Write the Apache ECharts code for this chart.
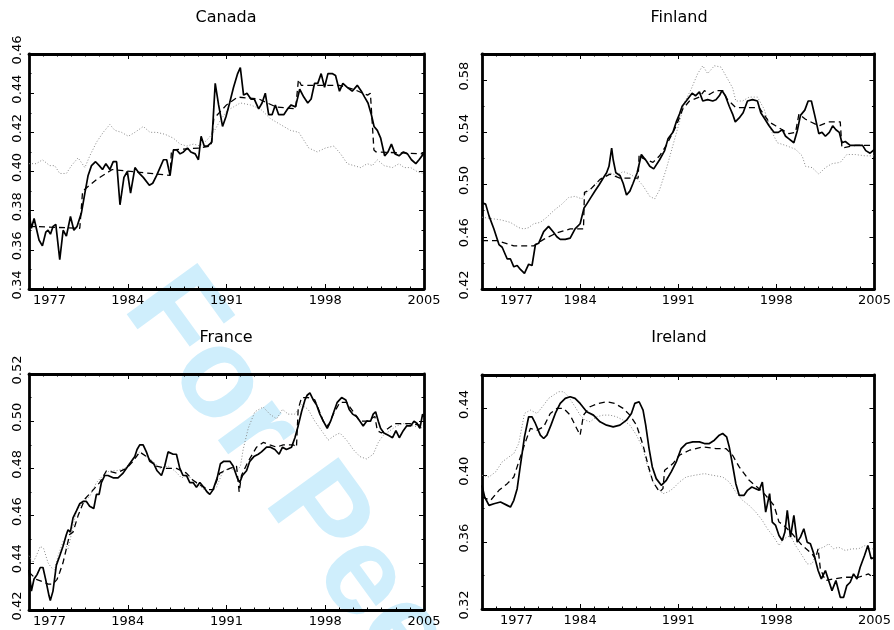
<!DOCTYPE html>
<html><head><meta charset="utf-8">
<script src="https://cdn.jsdelivr.net/npm/echarts@6/dist/echarts.min.js"></script>
<style>html,body{margin:0;padding:0;background:#fff}#c{width:894px;height:630px}</style>
</head><body><div id="c"></div>
<script>
// ---------- data ----------
const panelTitles = ['Canada', 'Finland', 'France', 'Ireland'];
const xTickYears = [1977, 1984, 1991, 1998, 2005];
const yRanges = [[0.34, 0.46, 0.02], [0.42, 0.60, 0.04], [0.42, 0.52, 0.02], [0.32, 0.46, 0.04]];
const yShowMax = [true, false, true, false];

const canadaSolid = [[1977.00,0.379],[1977.17,0.371],[1977.36,0.376],[1977.47,0.376],[1977.71,0.365],[1977.95,0.362],[1978.19,0.369],[1978.35,0.370],[1978.52,0.368],[1978.71,0.372],[1978.90,0.373],[1979.18,0.355],[1979.42,0.370],[1979.65,0.367],[1979.94,0.377],[1980.18,0.370],[1980.41,0.372],[1980.72,0.379],[1980.96,0.389],[1981.19,0.398],[1981.43,0.403],[1981.72,0.405],[1981.98,0.403],[1982.21,0.401],[1982.45,0.404],[1982.73,0.401],[1982.97,0.405],[1983.21,0.405],[1983.45,0.383],[1983.73,0.397],[1983.97,0.400],[1984.20,0.389],[1984.51,0.402],[1984.82,0.399],[1985.10,0.397],[1985.53,0.393],[1985.77,0.394],[1986.05,0.398],[1986.29,0.402],[1986.53,0.406],[1986.76,0.406],[1987.00,0.398],[1987.24,0.411],[1987.47,0.411],[1987.71,0.409],[1987.95,0.410],[1988.23,0.412],[1988.47,0.410],[1988.78,0.409],[1989.01,0.406],[1989.20,0.418],[1989.42,0.413],[1989.65,0.413],[1989.96,0.415],[1990.20,0.445],[1990.44,0.434],[1990.72,0.423],[1990.96,0.428],[1991.22,0.435],[1991.50,0.443],[1991.79,0.450],[1991.98,0.453],[1992.21,0.439],[1992.45,0.440],[1992.73,0.437],[1992.97,0.437],[1993.28,0.432],[1993.52,0.435],[1993.75,0.440],[1993.99,0.429],[1994.23,0.429],[1994.46,0.434],[1994.70,0.429],[1995.06,0.429],[1995.34,0.432],[1995.58,0.434],[1995.89,0.433],[1996.19,0.442],[1996.48,0.438],[1996.76,0.435],[1997.00,0.437],[1997.24,0.445],[1997.47,0.445],[1997.71,0.450],[1997.95,0.443],[1998.19,0.450],[1998.49,0.450],[1998.73,0.449],[1999.01,0.441],[1999.25,0.445],[1999.56,0.443],[1999.91,0.441],[2000.27,0.444],[2000.56,0.441],[2000.79,0.438],[2001.03,0.435],[2001.27,0.429],[2001.46,0.423],[2001.69,0.421],[2001.93,0.417],[2002.21,0.408],[2002.45,0.410],[2002.69,0.414],[2002.95,0.409],[2003.23,0.408],[2003.54,0.410],[2003.83,0.409],[2004.11,0.406],[2004.42,0.404],[2004.65,0.406],[2004.96,0.409]];
const canadaDashed = [[1977.0,0.372],[1980.6,0.371],[1980.8,0.390],[1981.8,0.396],[1982.9,0.401],[1987.0,0.398],[1987.1,0.411],[1989.1,0.412],[1989.9,0.413],[1990.1,0.427],[1991.0,0.434],[1991.8,0.438],[1993.3,0.437],[1994.5,0.433],[1995.9,0.432],[1996.1,0.447],[1996.3,0.444],[1999.0,0.444],[2000.0,0.442],[2001.0,0.439],[2001.2,0.440],[2001.45,0.411],[2001.6,0.410],[2005.0,0.409]];
const canadaDotted = [[1977.00,0.404],[1977.52,0.404],[1977.95,0.406],[1978.47,0.403],[1978.82,0.403],[1979.18,0.399],[1979.65,0.399],[1980.01,0.403],[1980.48,0.407],[1980.96,0.402],[1981.31,0.408],[1981.79,0.415],[1982.26,0.420],[1982.73,0.424],[1983.09,0.421],[1983.56,0.420],[1984.04,0.418],[1984.51,0.420],[1985.10,0.423],[1985.58,0.420],[1986.05,0.420],[1986.64,0.419],[1987.24,0.417],[1987.71,0.414],[1988.18,0.413],[1988.66,0.414],[1989.13,0.413],[1989.61,0.416],[1990.08,0.420],[1990.55,0.426],[1991.03,0.431],[1991.50,0.433],[1991.98,0.435],[1992.69,0.434],[1993.40,0.432],[1994.11,0.427],[1994.82,0.424],[1995.53,0.421],[1996.12,0.420],[1996.48,0.416],[1996.83,0.412],[1997.43,0.410],[1998.02,0.412],[1998.61,0.413],[1999.09,0.409],[1999.56,0.404],[2000.03,0.403],[2000.51,0.402],[2000.98,0.404],[2001.34,0.403],[2001.69,0.406],[2002.17,0.403],[2002.76,0.402],[2003.23,0.404],[2003.59,0.402],[2004.06,0.402],[2004.50,0.400],[2004.96,0.399]];

const finlandSolid = [[1977.00,0.486],[1977.26,0.485],[1977.50,0.476],[1977.85,0.466],[1978.21,0.454],[1978.44,0.452],[1978.80,0.443],[1979.03,0.443],[1979.27,0.437],[1979.51,0.438],[1979.74,0.435],[1980.03,0.432],[1980.33,0.439],[1980.57,0.438],[1980.81,0.454],[1981.04,0.455],[1981.40,0.464],[1981.75,0.468],[1982.06,0.464],[1982.34,0.460],[1982.58,0.458],[1982.94,0.458],[1983.29,0.459],[1983.64,0.466],[1984.00,0.470],[1984.28,0.482],[1984.47,0.485],[1984.76,0.490],[1985.06,0.495],[1985.37,0.500],[1985.65,0.505],[1985.89,0.509],[1986.06,0.514],[1986.25,0.528],[1986.36,0.519],[1986.55,0.509],[1986.84,0.507],[1987.07,0.501],[1987.31,0.492],[1987.55,0.495],[1987.78,0.501],[1988.07,0.509],[1988.37,0.523],[1988.73,0.518],[1988.97,0.514],[1989.25,0.512],[1989.67,0.519],[1990.03,0.526],[1990.27,0.535],[1990.62,0.540],[1990.86,0.548],[1991.09,0.554],[1991.28,0.560],[1991.57,0.564],[1991.99,0.570],[1992.23,0.568],[1992.51,0.571],[1992.75,0.564],[1993.10,0.565],[1993.46,0.564],[1993.69,0.565],[1993.93,0.568],[1994.12,0.572],[1994.36,0.568],[1994.64,0.560],[1994.88,0.554],[1995.07,0.548],[1995.35,0.551],[1995.63,0.555],[1995.94,0.564],[1996.30,0.565],[1996.65,0.564],[1996.89,0.555],[1997.19,0.550],[1997.48,0.545],[1997.83,0.540],[1998.14,0.540],[1998.42,0.542],[1998.66,0.537],[1998.90,0.535],[1999.25,0.532],[1999.49,0.541],[1999.72,0.553],[2000.03,0.557],[2000.27,0.564],[2000.50,0.564],[2000.74,0.553],[2001.03,0.539],[2001.26,0.540],[2001.50,0.537],[2001.78,0.540],[2002.02,0.545],[2002.25,0.542],[2002.49,0.540],[2002.68,0.532],[2002.92,0.533],[2003.27,0.530],[2003.58,0.530],[2003.86,0.530],[2004.15,0.530],[2004.38,0.526],[2004.69,0.524],[2005.00,0.527]];
const finlandDashed = [[1977.00,0.457],[1978.09,0.457],[1979.27,0.453],[1979.98,0.453],[1980.69,0.453],[1981.40,0.458],[1982.34,0.463],[1983.29,0.466],[1984.24,0.466],[1984.31,0.494],[1984.71,0.496],[1985.42,0.504],[1986.13,0.508],[1986.84,0.505],[1987.78,0.505],[1988.14,0.505],[1988.21,0.523],[1988.49,0.520],[1989.20,0.517],[1989.67,0.522],[1990.15,0.530],[1990.86,0.545],[1991.33,0.558],[1991.80,0.564],[1992.51,0.567],[1992.87,0.572],[1993.22,0.569],[1993.69,0.572],[1994.17,0.572],[1994.52,0.565],[1995.11,0.559],[1995.82,0.559],[1996.77,0.559],[1997.48,0.548],[1997.95,0.545],[1998.90,0.539],[1999.37,0.540],[1999.61,0.554],[2000.08,0.550],[2001.03,0.545],[2001.73,0.548],[2002.56,0.548],[2002.68,0.528],[2003.63,0.530],[2005.00,0.530]];
const finlandDotted = [[1977.00,0.475],[1977.61,0.474],[1978.32,0.473],[1979.03,0.471],[1979.62,0.467],[1979.98,0.466],[1980.33,0.467],[1980.69,0.470],[1981.16,0.471],[1981.63,0.475],[1982.11,0.480],[1982.70,0.485],[1983.17,0.490],[1983.64,0.491],[1984.12,0.489],[1984.47,0.494],[1984.95,0.499],[1985.54,0.504],[1986.13,0.509],[1986.60,0.507],[1987.07,0.510],[1987.55,0.508],[1988.02,0.505],[1988.49,0.499],[1988.97,0.491],[1989.32,0.489],[1989.67,0.496],[1990.15,0.512],[1990.62,0.530],[1991.09,0.548],[1991.45,0.563],[1991.92,0.573],[1992.39,0.585],[1992.75,0.591],[1993.10,0.585],[1993.58,0.591],[1994.05,0.590],[1994.52,0.581],[1994.88,0.574],[1995.11,0.564],[1995.59,0.564],[1996.06,0.567],[1996.65,0.567],[1997.12,0.558],[1997.60,0.542],[1998.07,0.532],[1998.66,0.530],[1999.37,0.527],[1999.84,0.522],[2000.08,0.514],[2000.55,0.513],[2001.03,0.508],[2001.50,0.513],[2001.97,0.516],[2002.56,0.517],[2003.03,0.523],[2003.63,0.523],[2004.34,0.522],[2005.00,0.522]];

const franceSolid = [[1977.00,0.437],[1977.17,0.428],[1977.35,0.433],[1977.57,0.435],[1977.80,0.438],[1977.99,0.438],[1978.18,0.433],[1978.42,0.426],[1978.51,0.424],[1978.70,0.428],[1978.94,0.439],[1979.18,0.443],[1979.41,0.447],[1979.65,0.452],[1979.77,0.454],[1979.93,0.453],[1980.12,0.459],[1980.36,0.462],[1980.59,0.465],[1980.83,0.466],[1981.07,0.466],[1981.30,0.464],[1981.59,0.463],[1981.78,0.469],[1981.97,0.469],[1982.13,0.474],[1982.37,0.477],[1982.60,0.477],[1982.96,0.476],[1983.31,0.476],[1983.67,0.478],[1984.02,0.481],[1984.26,0.483],[1984.50,0.485],[1984.66,0.488],[1984.85,0.490],[1985.09,0.490],[1985.32,0.487],[1985.56,0.483],[1985.84,0.482],[1986.08,0.479],[1986.39,0.477],[1986.62,0.481],[1986.86,0.487],[1987.22,0.486],[1987.45,0.486],[1987.69,0.480],[1987.92,0.477],[1988.16,0.477],[1988.40,0.474],[1988.63,0.474],[1988.87,0.472],[1989.11,0.474],[1989.39,0.472],[1989.63,0.470],[1989.82,0.469],[1990.05,0.471],[1990.34,0.476],[1990.57,0.482],[1990.81,0.483],[1991.24,0.483],[1991.47,0.481],[1991.76,0.476],[1991.94,0.474],[1992.13,0.477],[1992.42,0.479],[1992.65,0.483],[1992.94,0.485],[1993.25,0.486],[1993.48,0.487],[1993.84,0.489],[1994.12,0.489],[1994.43,0.488],[1994.73,0.486],[1994.97,0.489],[1995.25,0.488],[1995.61,0.489],[1995.85,0.493],[1996.08,0.498],[1996.32,0.504],[1996.56,0.509],[1996.72,0.511],[1996.91,0.512],[1997.15,0.509],[1997.38,0.507],[1997.62,0.503],[1997.86,0.500],[1998.14,0.497],[1998.38,0.500],[1998.61,0.504],[1998.85,0.508],[1999.16,0.510],[1999.46,0.509],[1999.70,0.505],[1999.94,0.503],[2000.22,0.502],[2000.46,0.500],[2000.69,0.498],[2000.93,0.500],[2001.21,0.500],[2001.40,0.503],[2001.57,0.504],[2001.76,0.500],[2001.92,0.497],[2002.16,0.495],[2002.47,0.494],[2002.77,0.493],[2003.01,0.496],[2003.25,0.493],[2003.53,0.496],[2003.77,0.498],[2004.05,0.498],[2004.29,0.500],[2004.52,0.499],[2004.71,0.497],[2004.90,0.503],[2005.00,0.502]];
const franceDashed = [[1977.00,0.436],[1977.52,0.433],[1977.99,0.432],[1978.35,0.431],[1978.70,0.431],[1978.99,0.433],[1979.18,0.436],[1979.41,0.440],[1979.65,0.446],[1979.88,0.452],[1980.12,0.453],[1980.48,0.460],[1980.95,0.467],[1981.42,0.470],[1982.01,0.474],[1982.49,0.479],[1983.20,0.478],[1983.90,0.480],[1984.38,0.483],[1984.85,0.487],[1985.32,0.485],[1986.03,0.481],[1986.74,0.480],[1987.45,0.480],[1988.16,0.478],[1988.63,0.475],[1989.11,0.473],[1989.70,0.471],[1990.05,0.471],[1990.53,0.478],[1991.24,0.480],[1991.71,0.481],[1991.90,0.470],[1992.06,0.477],[1992.54,0.483],[1993.13,0.489],[1993.60,0.491],[1994.07,0.490],[1994.55,0.489],[1995.02,0.490],[1995.73,0.490],[1995.96,0.489],[1996.08,0.505],[1996.32,0.510],[1996.79,0.510],[1997.26,0.509],[1997.86,0.500],[1998.21,0.498],[1998.57,0.503],[1999.04,0.508],[1999.51,0.508],[1999.98,0.504],[2000.46,0.500],[2000.93,0.500],[2001.52,0.502],[2001.69,0.496],[2001.99,0.495],[2002.47,0.497],[2002.94,0.499],[2003.29,0.499],[2004.00,0.499],[2005.00,0.498]];
const franceDotted = [[1977.00,0.443],[1977.28,0.440],[1977.52,0.443],[1977.80,0.447],[1978.04,0.446],[1978.35,0.440],[1978.58,0.438],[1978.82,0.437],[1979.06,0.443],[1979.41,0.449],[1979.77,0.446],[1980.00,0.452],[1980.36,0.462],[1980.83,0.466],[1981.30,0.468],[1981.78,0.474],[1982.25,0.477],[1982.72,0.479],[1983.20,0.479],[1983.79,0.480],[1984.26,0.483],[1984.85,0.487],[1985.32,0.485],[1985.80,0.483],[1986.27,0.480],[1986.86,0.481],[1987.33,0.479],[1987.81,0.476],[1988.28,0.477],[1988.75,0.474],[1989.23,0.472],[1989.77,0.469],[1990.29,0.472],[1990.76,0.479],[1991.24,0.480],[1991.76,0.479],[1991.99,0.481],[1992.18,0.488],[1992.54,0.497],[1993.01,0.504],[1993.60,0.506],[1994.07,0.503],[1994.55,0.501],[1994.97,0.505],[1995.37,0.503],[1995.85,0.503],[1996.32,0.507],[1996.79,0.505],[1997.26,0.500],[1997.74,0.496],[1998.21,0.492],[1998.68,0.494],[1999.04,0.495],[1999.51,0.492],[1999.98,0.488],[2000.46,0.485],[2000.93,0.484],[2001.40,0.486],[2001.76,0.491],[2002.11,0.494],[2002.59,0.496],[2003.06,0.498],[2003.53,0.499],[2004.24,0.498],[2005.00,0.497]];

const irelandSolid = [[1977.00,0.394],[1977.19,0.387],[1977.50,0.382],[1977.85,0.383],[1978.32,0.384],[1978.80,0.382],[1979.03,0.381],[1979.27,0.385],[1979.51,0.392],[1979.74,0.406],[1980.03,0.423],[1980.33,0.435],[1980.57,0.435],[1980.81,0.431],[1981.16,0.424],[1981.40,0.422],[1981.63,0.424],[1981.92,0.430],[1982.23,0.437],[1982.58,0.443],[1982.94,0.446],[1983.29,0.447],[1983.64,0.446],[1984.00,0.443],[1984.47,0.438],[1984.95,0.436],[1985.42,0.432],[1985.89,0.430],[1986.36,0.429],[1986.84,0.430],[1987.31,0.433],[1987.66,0.437],[1987.90,0.443],[1988.21,0.444],[1988.49,0.439],[1988.68,0.430],[1988.92,0.416],[1989.15,0.405],[1989.43,0.398],[1989.79,0.394],[1990.15,0.397],[1990.50,0.402],[1990.86,0.408],[1991.21,0.416],[1991.57,0.419],[1992.04,0.420],[1992.51,0.420],[1992.87,0.419],[1993.22,0.419],[1993.58,0.421],[1993.93,0.424],[1994.17,0.425],[1994.45,0.423],[1994.64,0.417],[1994.88,0.406],[1995.11,0.395],[1995.35,0.388],[1995.70,0.388],[1995.94,0.391],[1996.25,0.393],[1996.53,0.392],[1996.77,0.391],[1997.00,0.396],[1997.24,0.378],[1997.52,0.389],[1997.71,0.372],[1997.95,0.370],[1998.19,0.364],[1998.42,0.361],[1998.61,0.366],[1998.78,0.379],[1999.01,0.363],[1999.25,0.376],[1999.49,0.360],[1999.72,0.363],[1999.96,0.368],[2000.20,0.360],[2000.43,0.359],[2000.67,0.353],[2000.98,0.343],[2001.21,0.338],[2001.50,0.343],[2001.73,0.337],[2001.97,0.331],[2002.25,0.337],[2002.56,0.327],[2002.80,0.327],[2003.03,0.334],[2003.27,0.336],[2003.51,0.341],[2003.75,0.338],[2003.98,0.345],[2004.29,0.352],[2004.53,0.358],[2004.77,0.350],[2005.00,0.351]];
const irelandDashed = [[1977.00,0.387],[1977.61,0.385],[1978.21,0.391],[1978.80,0.395],[1979.27,0.399],[1979.62,0.408],[1980.10,0.420],[1980.45,0.428],[1980.93,0.427],[1981.40,0.429],[1981.87,0.437],[1982.34,0.440],[1982.82,0.440],[1983.29,0.436],[1983.64,0.430],[1984.00,0.424],[1984.24,0.436],[1984.71,0.441],[1985.30,0.443],[1985.89,0.444],[1986.48,0.443],[1987.07,0.440],[1987.55,0.436],[1988.02,0.430],[1988.49,0.418],[1988.85,0.406],[1989.20,0.396],[1989.67,0.390],[1989.91,0.392],[1990.03,0.403],[1990.62,0.407],[1991.09,0.412],[1991.80,0.415],[1992.75,0.417],[1993.69,0.416],[1994.40,0.416],[1994.88,0.412],[1995.35,0.405],[1996.06,0.397],[1996.77,0.392],[1997.24,0.388],[1997.83,0.382],[1998.19,0.372],[1998.54,0.370],[1999.13,0.365],[1999.84,0.358],[2000.55,0.353],[2000.79,0.350],[2000.98,0.356],[2001.14,0.344],[2001.50,0.337],[2002.09,0.338],[2002.92,0.339],[2003.86,0.339],[2004.58,0.341],[2005.00,0.338]];
const irelandDotted = [[1977.00,0.400],[1977.50,0.399],[1977.97,0.402],[1978.44,0.408],[1978.92,0.411],[1979.27,0.413],[1979.62,0.419],[1980.03,0.437],[1980.45,0.439],[1980.93,0.437],[1981.40,0.442],[1981.75,0.446],[1982.11,0.448],[1982.46,0.450],[1982.82,0.450],[1983.17,0.447],[1983.64,0.441],[1984.00,0.436],[1984.35,0.433],[1984.71,0.432],[1985.18,0.435],[1985.65,0.436],[1986.13,0.436],[1986.60,0.435],[1987.07,0.433],[1987.55,0.430],[1988.02,0.424],[1988.49,0.416],[1988.85,0.404],[1989.20,0.396],[1989.56,0.392],[1989.91,0.389],[1990.27,0.390],[1990.62,0.392],[1991.09,0.396],[1991.57,0.399],[1992.16,0.400],[1992.87,0.401],[1993.46,0.400],[1994.17,0.399],[1994.64,0.396],[1995.11,0.390],[1995.59,0.385],[1996.06,0.382],[1996.53,0.378],[1997.00,0.373],[1997.36,0.368],[1997.83,0.363],[1998.19,0.358],[1998.54,0.362],[1999.01,0.364],[1999.37,0.358],[1999.84,0.352],[2000.20,0.347],[2000.55,0.347],[2000.79,0.352],[2001.03,0.356],[2001.38,0.357],[2001.73,0.359],[2002.09,0.356],[2002.44,0.357],[2002.92,0.355],[2003.39,0.356],[2003.86,0.356],[2004.34,0.358],[2004.69,0.356],[2005.00,0.356]];

const panelSeries = [
  [canadaSolid, canadaDashed, canadaDotted],
  [finlandSolid, finlandDashed, finlandDotted],
  [franceSolid, franceDashed, franceDotted],
  [irelandSolid, irelandDashed, irelandDotted]
];

// ---------- layout ----------
const grids = [
  {left: 29, top: 54, width: 395, height: 235},
  {left: 482, top: 54, width: 394, height: 235},
  {left: 29, top: 374, width: 395, height: 236},
  {left: 482, top: 375, width: 394, height: 234}
];
const titlePos = [[226, 18], [679, 18], [226, 338], [679, 338]];
const yLabelMargin = [5, 11, 5, 11];
const firstLabelPad = [4, 18, 4, 18];
const FONT = '"DejaVu Sans", sans-serif';

const chart = echarts.init(document.getElementById('c'), null, {renderer: 'canvas'});
const xAxes = [], yAxes = [], series = [];
grids.forEach((g, i) => {
  const [ymin, ymax, yint] = yRanges[i];
  const xBase = {
    type: 'value', gridIndex: i, min: xTickYears[0], max: xTickYears[xTickYears.length - 1],
    interval: xTickYears[1] - xTickYears[0],
    axisLine: {show: true, lineStyle: {color: '#000', width: 2.8}},
    axisTick: {show: true, inside: true, length: 5, lineStyle: {color: '#000', width: 1}},
    minorTick: {show: true, splitNumber: 7, length: 2.5, lineStyle: {color: '#000', width: 1}},
    splitLine: {show: false}
  };
  xAxes.push(Object.assign({}, xBase, {
    position: 'bottom',
    axisLabel: {
      show: true, color: '#000', fontSize: 13, fontFamily: FONT, margin: 5,
      alignMinLabel: 'left',
      formatter: v => (v === xTickYears[0] ? '{f|' + v + '}' : String(v)),
      rich: {f: {padding: [0, 0, 0, firstLabelPad[i]], fontSize: 13, fontFamily: FONT, color: '#000'}}
    }
  }));
  xAxes.push(Object.assign({}, xBase, {position: 'top', axisLabel: {show: false}}));
  const yBase = {
    type: 'value', gridIndex: i, min: ymin, max: ymax, interval: yint,
    axisLine: {show: true, lineStyle: {color: '#000', width: 2.8}},
    axisTick: {show: true, inside: true, length: 5, lineStyle: {color: '#000', width: 1}},
    minorTick: {show: true, splitNumber: 2, length: 2.5, lineStyle: {color: '#000', width: 1}},
    splitLine: {show: false}
  };
  yAxes.push(Object.assign({}, yBase, {
    position: 'left',
    axisLabel: {show: true, rotate: 90, color: '#000', fontSize: 13, fontFamily: FONT,
      margin: yLabelMargin[i], padding: [0, 0, 0, 8], formatter: v => v.toFixed(2),
      showMinLabel: true, showMaxLabel: yShowMax[i]}
  }));
  yAxes.push(Object.assign({}, yBase, {position: 'right', axisLabel: {show: false}}));

  const [solid, dashed, dotted] = panelSeries[i];
  const common = {type: 'line', xAxisIndex: 2 * i, yAxisIndex: 2 * i, showSymbol: false, symbol: 'none', animation: false, silent: true};
  series.push(Object.assign({}, common, {name: panelTitles[i] + ' dotted', data: dotted, z: 2,
    lineStyle: {color: '#8a8a8a', width: 1, type: [1, 2]}}));
  series.push(Object.assign({}, common, {name: panelTitles[i] + ' dashed', data: dashed, z: 3,
    lineStyle: {color: '#000', width: 1.3, type: [6, 4]}}));
  series.push(Object.assign({}, common, {name: panelTitles[i] + ' solid', data: solid, z: 4,
    lineStyle: {color: '#000', width: 1.7}}));
});

const graphics = [{
  type: 'text', x: 150, y: 287, rotation: -54 * Math.PI / 180, z: -10, silent: true,
  style: {text: 'For Peer Review', fill: '#cfeefc', font: 'bold 127px "Liberation Sans", Arial, sans-serif',
    textAlign: 'left', textVerticalAlign: 'middle'}
}];
panelTitles.forEach((t, i) => {
  graphics.push({type: 'text', x: titlePos[i][0], y: titlePos[i][1], z: 10, silent: true,
    style: {text: t, fill: '#000', font: '16px ' + FONT, textAlign: 'center', textVerticalAlign: 'middle'}});
});

chart.setOption({
  backgroundColor: '#fff',
  animation: false,
  grid: grids.map(g => Object.assign({containLabel: false, show: false}, g)),
  xAxis: xAxes,
  yAxis: yAxes,
  series: series,
  graphic: {elements: graphics}
});
</script>
</body></html>
